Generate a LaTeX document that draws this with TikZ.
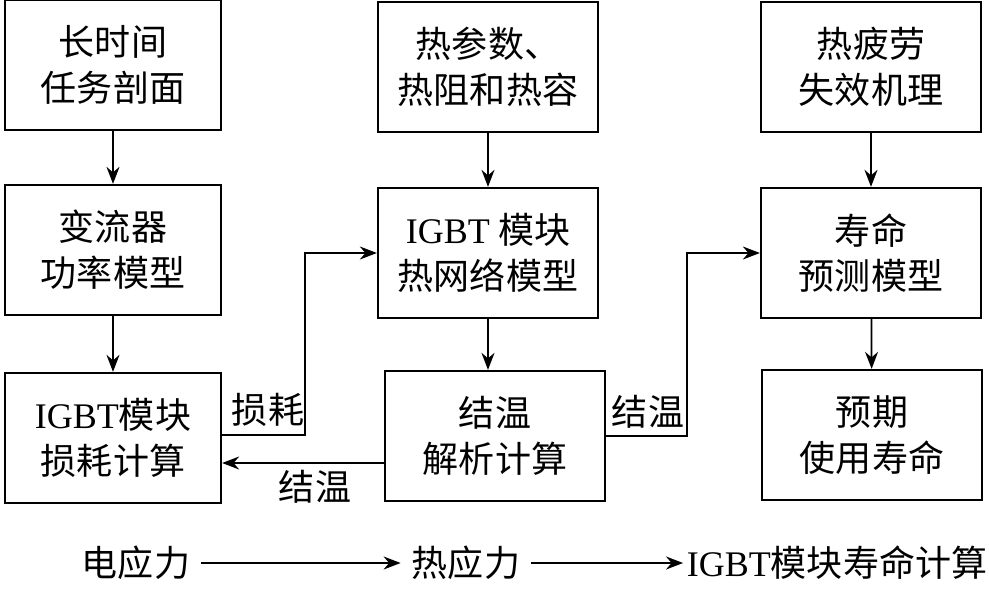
\documentclass[tikz,border=0pt]{standalone}
\usepackage{fontspec}
\setmainfont{Liberation Serif}
\newfontfamily\cjk{Noto Sans CJK SC}
\usetikzlibrary{arrows.meta}
\newcommand{\igbt}{{\rmfamily IGBT}}
\begin{document}
\begin{tikzpicture}[x=0.2mm,y=-0.2mm,
  box/.style={draw,line width=1.3pt,minimum width=44mm,minimum height=26mm,
    align=center,inner sep=0pt},
  arr/.style={line width=1pt,-{Stealth[length=3.4mm,width=2.6mm]}},
  txt/.style={inner sep=2pt}]
\useasboundingbox (0,0) rectangle (989,590);
\tikzset{every node/.append style={font=\cjk\fontsize{20.5}{26}\selectfont}}

% left column
\node[box,minimum width=43.2mm] (task) at (113,65) {长时间\\任务剖面};
\node[box,minimum width=43.2mm] (conv) at (113,250) {变流器\\功率模型};
\node[box,minimum width=43.2mm] (loss) at (113,438) {\igbt 模块\\损耗计算};

% middle column
\node[box] (para) at (488,67) {热参数、\\热阻和热容};
\node[box] (net) at (488,253) {\igbt\ 模块\\热网络模型};
\node[box] (tj) at (495,436) {结温\\解析计算};

% right column
\node[box] (mech) at (871,67) {热疲劳\\失效机理};
\node[box] (life) at (871,253) {寿命\\预测模型};
\node[box] (exp) at (872,435) {预期\\使用寿命};

\draw[arr] (task) -- (conv);
\draw[arr] (conv) -- (loss);
\draw[arr] (para) -- (net);
\draw[arr] (net.south) -- (net.south |- tj.north);
\draw[arr] (mech) -- (life);
\draw[arr] (life) -- (exp);

\coordinate (k1) at (305,0);
\coordinate (k2) at (687,0);
\draw[arr] ([yshift=0.6mm]loss.east) -- ([yshift=0.6mm]loss.east -| k1) |- (net.west);
\draw[arr] ([yshift=-5.4mm]tj.west) -- ([yshift=-5mm]loss.east);
\draw[arr] (tj.east) -- (tj.east -| k2) |- (life.west);

\node[txt] (l1) at (268,410) {损耗};
\node[txt] (l2) at (315,487) {结温};
\node[txt] (l3) at (648,412) {结温};

% bottom line
\node[txt] (elec) at (136,563) {电应力};
\node[txt] (heat) at (466,563) {热应力};
\node[txt] (calc) at (837,563) {\igbt 模块寿命计算};
\draw[arr] ([xshift=1.5mm]elec.east) -- ([xshift=-1.5mm]heat.west);
\draw[arr] ([xshift=1.5mm]heat.east) -- (calc.west);
\end{tikzpicture}
\end{document}
